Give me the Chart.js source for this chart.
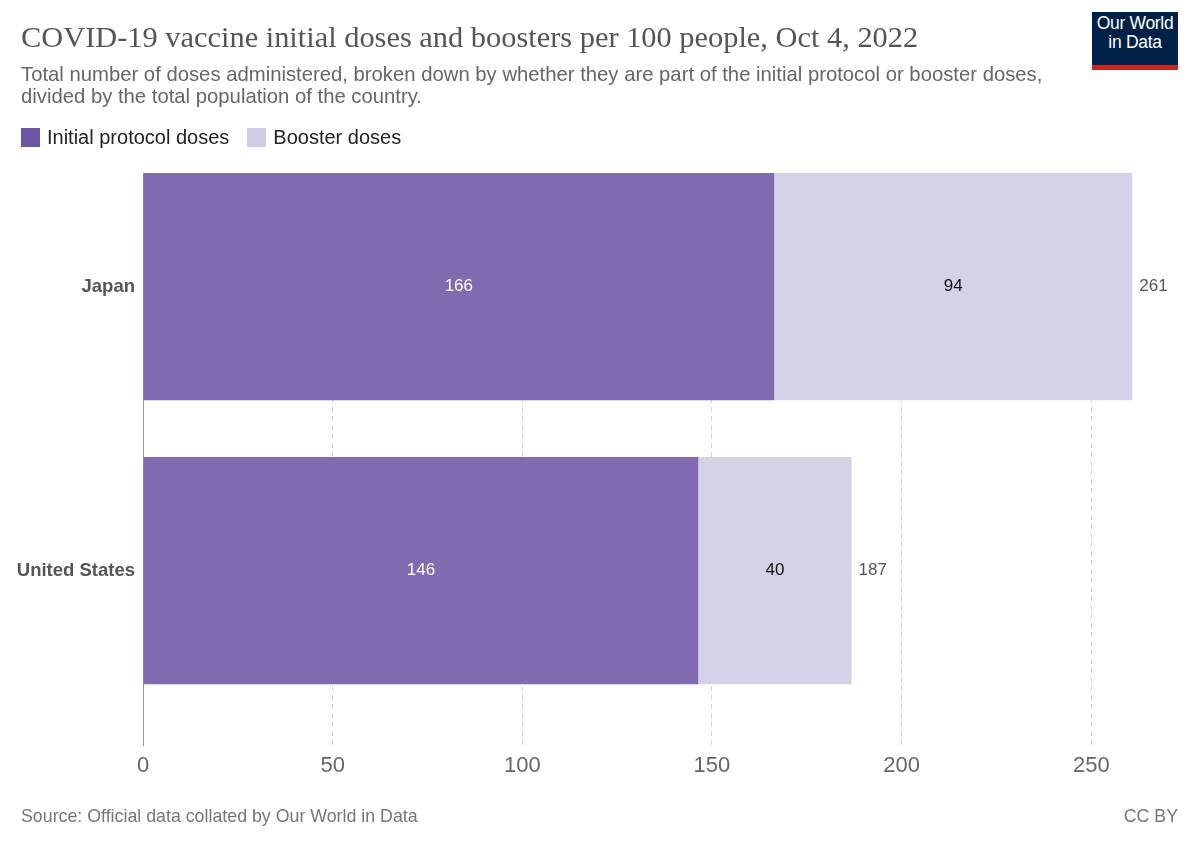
<!DOCTYPE html>
<html>
<head>
<meta charset="utf-8">
<script src="https://cdn.jsdelivr.net/npm/chart.js@4"></script>
<style>
  body { margin: 0; background: #fff; font-family: "Liberation Sans", Arial, sans-serif; }
  #page { position: relative; width: 1200px; height: 847px; overflow: hidden; }
  #wrap { position: absolute; left: 0; top: 0; width: 1200px; height: 847px; }
  .title { position: absolute; left: 21px; top: 20px; font-family: "Liberation Serif", serif; font-size: 30.4px; color: #555; white-space: nowrap; }
  .subtitle { position: absolute; left: 21px; top: 63px; font-size: 20.3px; line-height: 22px; color: #666; width: 1080px; }
  .legend { position: absolute; left: 21px; top: 126px; font-size: 20px; color: #222; display: flex; align-items: center; }
  .legend span.box { display: inline-block; width: 19px; height: 19px; margin-right: 7px; }
  .legend span.item { display: flex; align-items: center; margin-right: 18px; }
  .source { position: absolute; left: 21px; top: 806px; font-size: 17.8px; color: #777; }
  .cc { position: absolute; right: 22px; top: 806px; font-size: 17.8px; color: #777; }
  .logo { position: absolute; left: 1092px; top: 12px; width: 86px; height: 58px; background: #002147; color: #fff; text-align: center; font-size: 17.5px; line-height: 19px; box-sizing: border-box; padding-top: 2px; letter-spacing: -0.3px; }
  .logo .bar { position: absolute; left: 0; bottom: 0; width: 100%; height: 5px; background: #ce261e; }
</style>
</head>
<body>
<div id="page">
  <div id="wrap"><canvas id="chart"></canvas></div>
  <div class="title">COVID-19 vaccine initial doses and boosters per 100 people, Oct 4, 2022</div>
  <div class="subtitle">Total number of doses administered, broken down by whether they are part of the initial protocol or booster doses,<br>divided by the total population of the country.</div>
  <div class="legend">
    <span class="item"><span class="box" style="background:#6c55a5"></span>Initial protocol doses</span>
    <span class="item"><span class="box" style="background:#d0cde6"></span>Booster doses</span>
  </div>
  <div class="source">Source: Official data collated by Our World in Data</div>
  <div class="cc">CC BY</div>
  <div class="logo">Our World<br>in Data<div class="bar"></div></div>
</div>
<script>
const countries = ["Japan", "United States"];
const initialDoses = [166.4, 146.4];
const boosterDoses = [94.4, 40.4];
const xTicks = [0, 50, 100, 150, 200, 250];

Chart.defaults.font.family = "'Liberation Sans', Arial, sans-serif";
Chart.defaults.animation = false;

// value labels inside the bars and totals at the end
const barLabels = {
  id: "barLabels",
  afterDatasetsDraw(chart) {
    const ctx = chart.ctx;
    ctx.save();
    ctx.font = "17px 'Liberation Sans', Arial, sans-serif";
    ctx.textBaseline = "middle";
    const inner = chart.getDatasetMeta(0).data;
    const outer = chart.getDatasetMeta(1).data;
    countries.forEach((c, i) => {
      const a = inner[i], b = outer[i];
      ctx.textAlign = "center";
      ctx.fillStyle = "#fff";
      ctx.fillText(Math.round(initialDoses[i]), (a.x + a.base) / 2, a.y);
      ctx.fillStyle = "#111";
      ctx.fillText(Math.round(boosterDoses[i]), (b.x + b.base) / 2, b.y);
      ctx.textAlign = "left";
      ctx.fillStyle = "#555";
      ctx.fillText(Math.round(initialDoses[i] + boosterDoses[i]), b.x + 7, b.y);
    });
    ctx.restore();
  }
};

new Chart(document.getElementById("chart"), {
  type: "bar",
  data: {
    datasets: [
      {
        label: "Initial protocol doses",
        data: initialDoses.map((v, i) => ({ x: v, y: i })),
        backgroundColor: "#806ab0",
        categoryPercentage: 0.8,
        barPercentage: 1
      },
      {
        label: "Booster doses",
        data: boosterDoses.map((v, i) => ({ x: v, y: i })),
        backgroundColor: "#d4d2e7",
        categoryPercentage: 0.8,
        barPercentage: 1
      }
    ]
  },
  options: {
    indexAxis: "y",
    responsive: true,
    maintainAspectRatio: false,
    layout: { padding: { top: 173, right: 67, bottom: 47, left: 0 } },
    plugins: { legend: { display: false }, tooltip: { enabled: false } },
    scales: {
      x: {
        type: "linear",
        stacked: true,
        min: 0,
        max: 261,
        afterBuildTicks: (s) => { s.ticks = xTicks.map((v) => ({ value: v })); },
        afterFit: (s) => { s.height = 55; },
        border: { display: false, dash: [5, 4] },
        grid: { color: "#d6d6d6", lineWidth: 1, drawTicks: false },
        ticks: { color: "#666", font: { size: 22 }, padding: 8 }
      },
      y: {
        type: "linear",
        stacked: true,
        reverse: true,
        offset: false,
        min: -0.4,
        max: 1.614,
        afterBuildTicks: (s) => { s.ticks = countries.map((c, i) => ({ value: i })); },
        afterFit: (s) => { s.width = 143; },
        grid: { display: false, drawTicks: false },
        border: { display: true, color: "#999", width: 1 },
        ticks: {
          color: "#555",
          font: { size: 18.5, weight: "bold" },
          padding: 8,
          callback: (v) => countries[v]
        }
      }
    }
  },
  plugins: [barLabels]
});
</script>
</body>
</html>
